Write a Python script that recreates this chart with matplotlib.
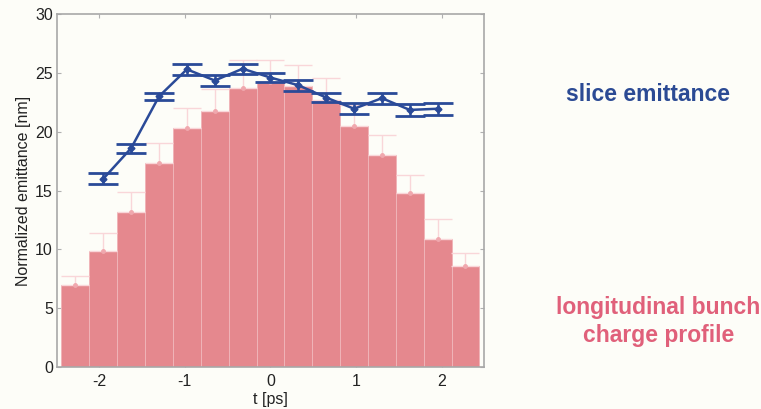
import matplotlib.pyplot as plt
import numpy as np

plt.rcParams['font.family'] = ['Liberation Sans', 'DejaVu Sans']

# time slices [ps]
t = [-2.275, -1.95, -1.625, -1.3, -0.975, -0.65, -0.325, 0.0,
     0.325, 0.65, 0.975, 1.3, 1.625, 1.95, 2.275]
# longitudinal bunch charge profile (scaled) and its upper error
charge = [7.0, 9.9, 13.2, 17.35, 20.35, 21.8, 23.7, 24.2,
          23.85, 22.7, 20.5, 18.0, 14.75, 10.85, 8.55]
charge_err = [0.75, 1.5, 1.65, 1.7, 1.7, 1.8, 2.4, 1.9,
              1.8, 1.9, 1.8, 1.75, 1.55, 1.7, 1.15]

# slice emittance [nm]
t_slice = t[1:14]
emit = [16.0, 18.6, 23.0, 25.3, 24.35, 25.35, 24.6, 23.95,
        22.9, 21.95, 22.85, 21.85, 21.95]
emit_err = [0.45, 0.38, 0.3, 0.48, 0.45, 0.42, 0.35, 0.45,
            0.35, 0.45, 0.47, 0.48, 0.52]

bg = '#fdfdf8'
pink = '#e5888e'
blue = '#2a4a98'

fig = plt.figure(figsize=(7.61, 4.09), dpi=100, facecolor=bg)
ax = fig.add_axes([0.0749, 0.1027, 0.561, 0.863], facecolor=bg)

ax.bar(t, charge, width=0.325, color=pink, edgecolor='#f0b4b8', linewidth=0.7, zorder=2)
ax.errorbar(t, charge, yerr=[np.zeros(len(charge_err)), charge_err], fmt='o', ms=2.5,
            color='#f0a8ae', ecolor='#f9d6d9', elinewidth=1, capsize=10, capthick=1, zorder=3)

ax.errorbar(t_slice, emit, yerr=emit_err, fmt='-D', color=blue, lw=1.8, ms=3.5,
            elinewidth=1.8, capsize=11, capthick=2, zorder=4)

ax.set_xlim(-2.49, 2.49)
ax.set_ylim(0, 30)
ax.set_xticks([-2, -1, 0, 1, 2])
ax.set_xticklabels(['-2', '-1', '0', '1', '2'])
ax.set_yticks(range(0, 31, 5))
ax.tick_params(direction='in', length=3, color='#b0b0b0', labelsize=11.5,
               top=True, right=True, labelcolor='#222222', pad=3)
ax.tick_params(axis='x', pad=5)
for s in ax.spines.values():
    s.set_color('#a8a8a8')
    s.set_linewidth(1.2)

ax.set_xlabel('t [ps]', fontsize=11.5, color='#222222', labelpad=2)
ax.set_ylabel('Normalized emittance [nm]', fontsize=11.5, color='#222222', labelpad=3)

fig.text(0.851, 0.768, 'slice emittance', color='#2b4a94', fontsize=16.5,
         fontweight='bold', ha='center', va='center')
fig.text(0.865, 0.214, 'longitudinal bunch\ncharge profile', color='#e0607a',
         fontsize=16.5, fontweight='bold', ha='center', va='center', linespacing=1.25)

fig.savefig('out.png', dpi=100, facecolor=bg)
